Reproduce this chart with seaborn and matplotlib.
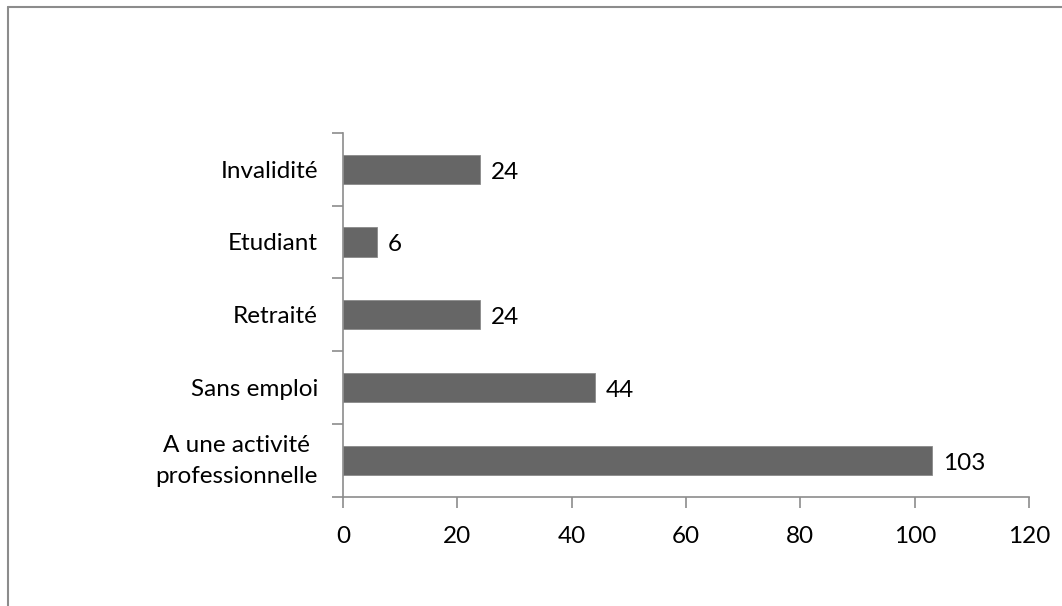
import matplotlib
matplotlib.use("Agg")
import matplotlib.pyplot as plt
import matplotlib.transforms as mtransforms
import seaborn as sns
import pandas as pd
from matplotlib.lines import Line2D

categories = ["A une activité\nprofessionnelle", "Sans emploi", "Retraité", "Etudiant", "Invalidité"]
values = [103, 44, 24, 6, 24]
x_ticks = [0, 20, 40, 60, 80, 100, 120]

sns.set_theme(style="white")
plt.rcParams['font.family'] = ['Lato', 'DejaVu Sans']

df = pd.DataFrame({"cat": categories, "val": values})
order = categories[::-1]

FS = 17.5

fig = plt.figure(figsize=(10.62, 6.06), dpi=100)
ax = fig.add_axes([0.323, 0.180, 0.646, 0.601])

sns.barplot(data=df, x="val", y="cat", order=order, color="#666666",
            saturation=1, width=0.4, ax=ax, orient="h",
            edgecolor="#8a8a8a", linewidth=0.6)

ax.set_xlim(0, 120)
ax.set_xticks(x_ticks)
ax.set_xlabel("")
ax.set_ylabel("")

# category boundary ticks
n = len(categories)
ax.set_ylim(n - 0.5, -0.5)
ax.set_yticks([i - 0.5 for i in range(n + 1)], minor=False)
ax.set_yticklabels([""] * (n + 1))
ax.set_yticks(list(range(n)), minor=True)
ax.set_yticklabels(order, minor=True, fontsize=FS, color="#000000",
                   multialignment="center", linespacing=1.6)
ax.tick_params(axis="y", which="minor", length=0, pad=18)
ax.tick_params(axis="y", which="major", length=8, width=1.2, color="#8c8c8c", direction="out", left=True)
ax.tick_params(axis="x", length=8, width=1.2, color="#8c8c8c", direction="out", bottom=True,
               labelsize=FS, labelcolor="#000000", pad=13)

for lbl in ax.get_yticklabels(minor=True):
    if "\n" in lbl.get_text():
        lbl.set_transform(lbl.get_transform() +
                          mtransforms.ScaledTranslation(0, 5 / 72, fig.dpi_scale_trans))

for s in ["top", "right"]:
    ax.spines[s].set_visible(False)
for s in ["left", "bottom"]:
    ax.spines[s].set_color("#8c8c8c")
    ax.spines[s].set_linewidth(1.2)

for i, c in enumerate(order):
    v = values[categories.index(c)]
    ax.text(v + 1.9, i + 0.04, str(v), va="center", ha="left", fontsize=FS, color="#000000")

# outer border (top and left only, as in the reference)
x0, y0 = 7.5 / 1062, 1 - 6.5 / 606
fig.add_artist(Line2D([x0, 1.0], [y0, y0], transform=fig.transFigure, color="#8c8c8c", linewidth=1.5))
fig.add_artist(Line2D([x0, x0], [0.0, y0], transform=fig.transFigure, color="#8c8c8c", linewidth=1.5))

fig.savefig("out.png", dpi=100, facecolor="white")
